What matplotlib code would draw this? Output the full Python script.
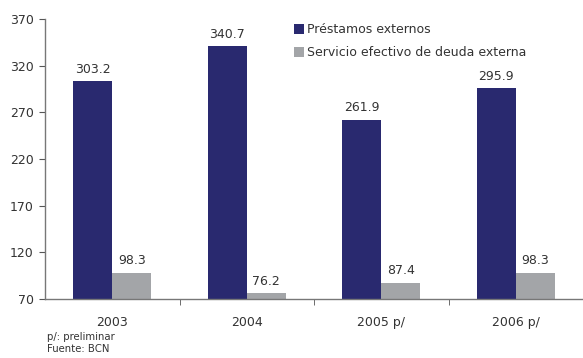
import matplotlib
matplotlib.use("Agg")
import matplotlib.pyplot as plt
import numpy as np

categories = ["2003", "2004", "2005 p/", "2006 p/"]
prestamos = [303.2, 340.7, 261.9, 295.9]
servicio = [98.3, 76.2, 87.4, 98.3]
yticks = [70, 120, 170, 220, 270, 320, 370]

plt.rcParams['font.family'] = ['DejaVu Sans']
fig = plt.figure(figsize=(5.83, 3.58), dpi=100)
ax = fig.add_axes([0.0772, 0.1648, 0.9228, 0.782])

x = np.arange(len(categories))
w = 0.29
dark = "#29296F"
gray = "#A3A5A8"
base = 70
b1 = ax.bar(x - w/2, np.array(prestamos) - base, w, bottom=base, color=dark, label="Préstamos externos")
b2 = ax.bar(x + w/2, np.array(servicio) - base, w, bottom=base, color=gray, label="Servicio efectivo de deuda externa")
for xi, v in zip(x, prestamos):
    ax.text(xi - w/2, v + 6, f"{v:.1f}", ha="center", va="bottom", fontsize=9, color="#333333")
for xi, v in zip(x, servicio):
    ax.text(xi + w/2, v + 6, f"{v:.1f}", ha="center", va="bottom", fontsize=9, color="#333333")

ax.set_xlim(-0.5, 3.5)
ax.set_ylim(70, 370)
ax.set_yticks(yticks)
ax.set_yticklabels([str(t) for t in yticks], fontsize=9, color="#333333")
ax.set_xticks(x)
ax.set_xticklabels(categories, fontsize=9, color="#333333")
ax.set_xticks([0.5, 1.5, 2.5], minor=True)
ax.tick_params(axis="x", which="major", length=0, pad=12)
ax.tick_params(axis="x", which="minor", length=4, direction="out", color="#555555")
ax.tick_params(axis="y", length=4, direction="out", color="#555555", pad=4)
for s in ["top", "right"]:
    ax.spines[s].set_visible(False)
for s in ["left", "bottom"]:
    ax.spines[s].set_color("#777777")
    ax.spines[s].set_linewidth(1.0)

leg = ax.legend(loc="upper left", bbox_to_anchor=(0.446, 1.016), frameon=False, fontsize=9,
                handlelength=0.8, handleheight=0.8, handletextpad=0.3, labelspacing=0.8,
                labelcolor="#333333", borderaxespad=0.3)

fig.text(47/583, 1 - 337/358, "p/: preliminar", fontsize=7.3, color="#333333", va="center")
fig.text(47/583, 1 - 349/358, "Fuente: BCN", fontsize=7.3, color="#333333", va="center")

fig.savefig("out.png", dpi=100)
